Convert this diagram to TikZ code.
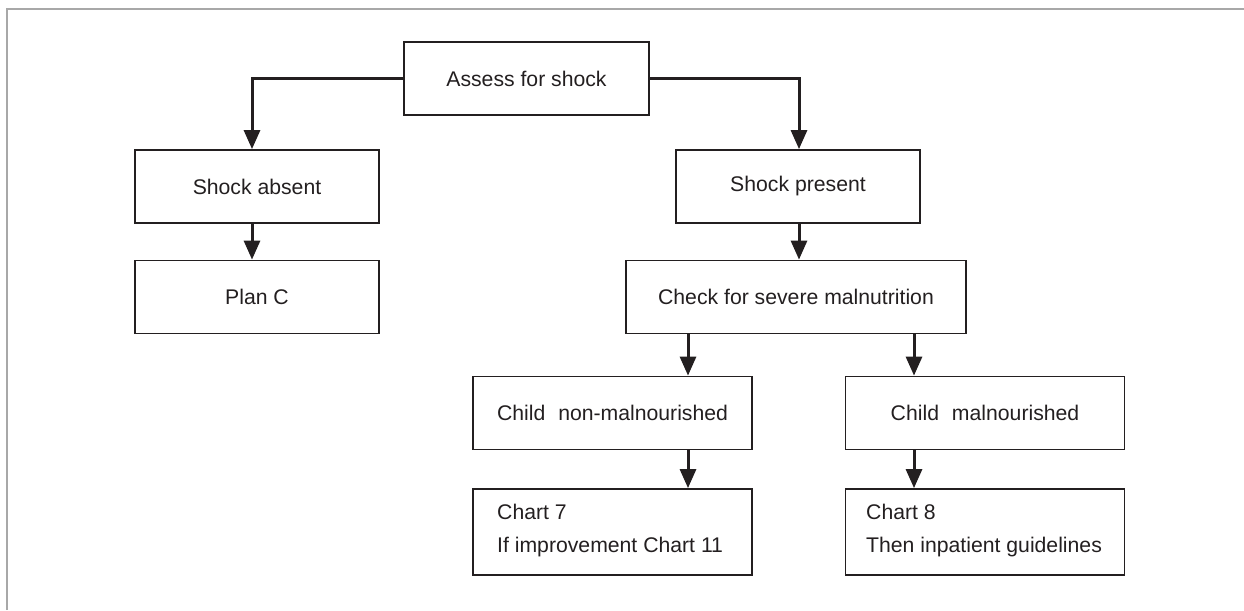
\documentclass[tikz,border=0pt]{standalone}
\usepackage{fontspec}
\setmainfont{Liberation Sans}
\usetikzlibrary{arrows.meta}
\definecolor{ink}{HTML}{231F20}
\definecolor{framegray}{HTML}{A8A8A8}
\begin{document}
\begin{tikzpicture}[x=1pt,y=-1pt,
  box/.style={draw=ink,line width=1.8pt,minimum width=244pt,minimum height=73pt,inner sep=0pt,text=ink,font=\fontsize{21.2}{24}\selectfont},
  wide/.style={box,minimum width=340pt},
  mid/.style={box,minimum width=279pt},
  flow/.style={draw=ink,line width=3pt,-{Triangle[length=19pt,width=16pt]}},
  txt/.style={anchor=west,text=ink,font=\fontsize{21.2}{24}\selectfont,align=left,inner sep=0pt},
]
\useasboundingbox (0,0) rectangle (1244,610);
\draw[framegray,line width=2pt] (6.5,610) -- (6.5,9) -- (1244,9);
\node[box,minimum width=245pt] (assess) at (526.5,78.5) {Assess for shock};
\node[box] (absent) at (257,186.5) {Shock absent};
\node[box] (planc) at (257,297) {Plan C};
\node[box] (present) at (798,186.5) {Shock present};
\node[wide] (check) at (796,297) {Check for severe malnutrition};
\node[mid] (nonmal) at (612.5,413) {Child\,\, non-malnourished};
\node[mid] (mal) at (985,413) {Child\,\, malnourished};
\node[mid,minimum height=86pt] (chart7) at (612.5,532) {};
\node[mid,minimum height=86pt] (chart8) at (985,532) {};
\node[txt] (t7) at (497,531) {Chart 7\\[9pt]If improvement Chart 11};
\node[txt] (t8) at (866,531) {Chart 8\\[9pt]Then inpatient guidelines};
\coordinate (la) at (252,78.5);
\coordinate (ra) at (799,78.5);
\draw[flow] (assess.west) -- (la) -- (la |- absent.north);
\draw[flow] (assess.east) -- (ra) -- (ra |- present.north);
\draw[flow] (absent.south -| la) -- (la |- planc.north);
\draw[flow] (present.south -| ra) -- (ra |- check.north);
\coordinate (c1) at (688,0);
\coordinate (c2) at (914,0);
\draw[flow] (c1 |- check.south) -- (c1 |- nonmal.north);
\draw[flow] (c2 |- check.south) -- (c2 |- mal.north);
\draw[flow] (c1 |- nonmal.south) -- (c1 |- chart7.north);
\draw[flow] (c2 |- mal.south) -- (c2 |- chart8.north);
\end{tikzpicture}
\end{document}
